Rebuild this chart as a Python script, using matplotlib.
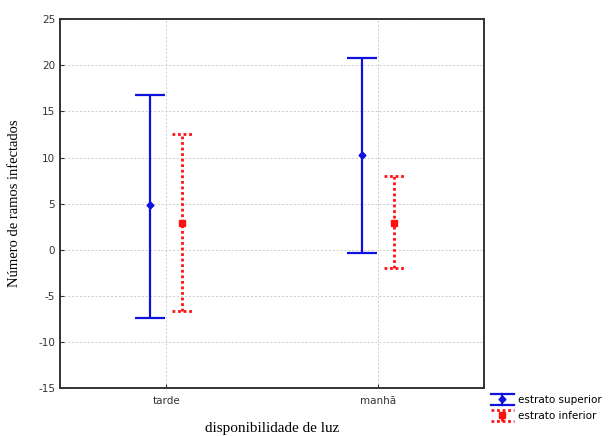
import matplotlib.pyplot as plt
from matplotlib.legend_handler import HandlerBase
from matplotlib.lines import Line2D

plt.rcParams["axes.unicode_minus"] = False

# dados
categorias = ["tarde", "manhã"]
sup_media = [4.8, 10.3]
sup_min = [-7.4, -0.4]
sup_max = [16.8, 20.8]
inf_media = [2.9, 2.9]
inf_min = [-6.6, -2.0]
inf_max = [12.6, 8.0]

AZUL = "#1010e0"
VERM = "#ff1010"


class HandlerIntervalo(HandlerBase):
    def __init__(self, cor, ls, marker, ms, lw):
        super().__init__()
        self.cor, self.ls, self.marker, self.ms, self.lw = cor, ls, marker, ms, lw

    def create_artists(self, legend, orig, xd, yd, w, h, fs, trans):
        cx = xd + w / 2
        y0, y1 = yd - h * 0.3, yd + h * 1.2
        kw = dict(color=self.cor, lw=self.lw, ls=self.ls, transform=trans)
        return [
            Line2D([cx, cx], [y0, y1], **kw),
            Line2D([xd, xd + w], [y0, y0], **kw),
            Line2D([xd, xd + w], [y1, y1], **kw),
            Line2D([cx], [yd + h / 2], marker=self.marker, ms=self.ms,
                   color=self.cor, ls="None", transform=trans),
        ]


fig = plt.figure(figsize=(6.16, 4.36), dpi=100)
ax = fig.add_axes([0.0974, 0.110, 0.689, 0.846])

pos = [1, 2]
d = 0.076
x_sup = [p - d for p in pos]
x_inf = [p + d for p in pos]

err_sup = [[m - lo for m, lo in zip(sup_media, sup_min)],
           [hi - m for m, hi in zip(sup_media, sup_max)]]
err_inf = [[m - lo for m, lo in zip(inf_media, inf_min)],
           [hi - m for m, hi in zip(inf_media, inf_max)]]

h1 = ax.errorbar(x_sup, sup_media, yerr=err_sup, fmt="D", color=AZUL,
                 ms=3.5, lw=1.6, capsize=11, capthick=1.6, ecolor=AZUL)
h2 = ax.errorbar(x_inf, inf_media, yerr=err_inf, fmt="s", color=VERM,
                 ms=5, lw=2, capsize=0, ecolor=VERM)
for bar in h2[2]:
    bar.set_linestyle((0, (1, 1)))
# caps pontilhados
for lo, hi, x in zip(inf_min, inf_max, x_inf):
    ax.plot([x - 0.05, x + 0.05], [lo, lo], color=VERM, lw=2, ls=(0, (1, 1)))
    ax.plot([x - 0.05, x + 0.05], [hi, hi], color=VERM, lw=2, ls=(0, (1, 1)))

ax.set_xlim(0.5, 2.5)
ax.set_ylim(-15, 25)
ax.set_yticks(range(-15, 26, 5))
ax.set_xticks(pos)
ax.set_xticklabels(categorias)
ax.tick_params(direction="in", length=3, labelsize=7.5, colors="#333333",
               labelcolor="#333333")
ax.tick_params(axis="x", pad=6)
ax.grid(True, color="#cccccc", ls=(0, (2, 2)), lw=0.7)
for s in ax.spines.values():
    s.set_linewidth(1.4)
    s.set_color("#333333")

ax.set_xlabel("disponibilidade de luz", family="Liberation Serif", fontsize=11,
              labelpad=11)
ax.set_ylabel("Número de ramos infectados", family="Liberation Serif",
              fontsize=10.5, labelpad=12)

p1 = Line2D([], [])
p2 = Line2D([], [])
fig.legend(handles=[p1, p2], labels=["estrato superior", "estrato inferior"],
           handler_map={p1: HandlerIntervalo(AZUL, "-", "D", 3.5, 1.6),
                        p2: HandlerIntervalo(VERM, (0, (1, 1)), "s", 5, 2)},
           loc="upper left", bbox_to_anchor=(0.797, 0.094),
           frameon=False, fontsize=7.5, handlelength=2.2, handletextpad=0.4,
           labelspacing=0.55, borderaxespad=0, borderpad=0)

fig.savefig("out.png", dpi=100)
